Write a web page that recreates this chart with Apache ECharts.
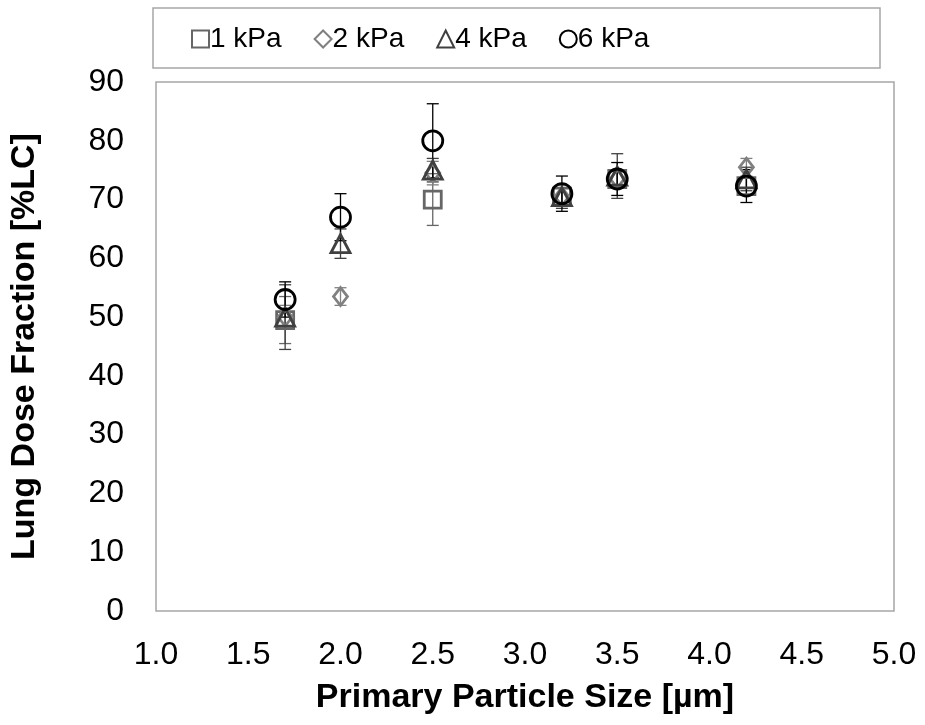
<!DOCTYPE html>
<html><head><meta charset="utf-8">
<script src="https://cdn.jsdelivr.net/npm/echarts@6/dist/echarts.min.js"></script>
<style>html,body{margin:0;padding:0;background:#fff}#c{width:925px;height:725px}</style>
</head><body><div id="c"></div>
<script>
const sizes = [1.7, 2.0, 2.5, 3.2, 3.5, 4.2];
const names = ['1 kPa', '2 kPa', '4 kPa', '6 kPa'];
const kPa1 = [49.5, null, 70, 70.5, 73.5, 72.3];
const kPa2 = [50, 53.5, 74.5, 70.5, 73.5, 75.5];
const kPa4 = [50, 62.5, 75, 70.5, 74, 73.5];
const kPa6 = [53, 67, 80, 71, 73.5, 72.3];
const err1 = [4, null, 4.4, 1.5, 1.5, 1.5];
const err2 = [2, 1.5, 2, 1.5, 1.5, 1.5];
const err4 = [5.5, 2.5, 2, 2, 3.8, 2];
const err6 = [3, 4, 6.3, 3, 2.8, 2.8];
const xTicks = ['1.0','1.5','2.0','2.5','3.0','3.5','4.0','4.5','5.0'];

const vals = [kPa1, kPa2, kPa4, kPa6];
const errs = [err1, err2, err4, err6];
const symbols = ['rect', 'diamond', 'triangle', 'circle'];
const symSizes = [[17,17], [14,18], [19,18], [20,20]];
const colors = ['#666666', '#808080', '#404040', '#000000'];
const errColors = ['#666666', '#808080', '#404040', '#000000'];

const series = [];
vals.forEach((v, i) => {
  const pts = [];
  const ebs = [];
  sizes.forEach((x, j) => {
    if (v[j] != null) {
      pts.push([x, v[j]]);
      ebs.push([x, v[j] - errs[i][j], v[j] + errs[i][j]]);
    }
  });
  series.push({
    type: 'custom', name: names[i] + '_err', silent: true, z: 1,
    data: ebs,
    renderItem: function (params, api) {
      const x = api.value(0);
      const lo = api.coord([x, api.value(1)]);
      const hi = api.coord([x, api.value(2)]);
      const hw = 6;
      const st = { stroke: errColors[i], lineWidth: 1.3 };
      return { type: 'group', children: [
        { type: 'line', shape: { x1: lo[0], y1: lo[1], x2: hi[0], y2: hi[1] }, style: st },
        { type: 'line', shape: { x1: lo[0]-hw, y1: lo[1], x2: lo[0]+hw, y2: lo[1] }, style: st },
        { type: 'line', shape: { x1: hi[0]-hw, y1: hi[1], x2: hi[0]+hw, y2: hi[1] }, style: st }
      ]};
    }
  });
  series.push({
    type: 'scatter', name: names[i], z: 2 + i,
    data: pts, symbol: symbols[i], symbolSize: symSizes[i],
    itemStyle: { color: 'rgba(0,0,0,0)', borderColor: colors[i], borderWidth: 2.8, opacity: 1 }
  });
});

const chart = echarts.init(document.getElementById('c'), null, { renderer: 'canvas' });
chart.setOption({
  animation: false,
  textStyle: { fontFamily: 'Liberation Sans, Arial, sans-serif' },
  grid: { left: 155, right: 31, top: 82, bottom: 114, show: true, borderColor: '#a6a6a6', borderWidth: 1.5, backgroundColor: '#fff' },
  graphic: [{ type: 'rect', shape: { x: 153, y: 8, width: 727, height: 60 }, style: { fill: '#fff', stroke: '#a6a6a6', lineWidth: 1.5 }, z: -1 }],
  legend: {
    data: names.map((n, i) => ({ name: n, icon: symbols[i] })),
    top: 20, left: 186, itemGap: 32, itemWidth: 17, itemHeight: 17,
    textStyle: { fontSize: 28, color: '#000', fontFamily: 'Liberation Sans, Arial, sans-serif', padding: [0,0,0,-4] },
    selectedMode: false
  },
  xAxis: {
    type: 'value', min: 1, max: 5, interval: 0.5,
    axisLine: { show: false }, axisTick: { show: false }, splitLine: { show: false },
    axisLabel: { fontSize: 32, color: '#000', margin: 28, formatter: v => xTicks[Math.round((v - 1) / 0.5)] },
    name: 'Primary Particle Size [µm]', nameLocation: 'middle', nameGap: 70,
    nameTextStyle: { fontSize: 34, fontWeight: 'bold', color: '#000' }
  },
  yAxis: {
    type: 'value', min: 0, max: 90, interval: 10,
    axisLine: { show: false }, axisTick: { show: false }, splitLine: { show: false },
    axisLabel: { fontSize: 32, color: '#000', margin: 32 },
    name: 'Lung Dose Fraction [%LC]', nameLocation: 'middle', nameGap: 114, nameRotate: 90,
    nameTextStyle: { fontSize: 34, fontWeight: 'bold', color: '#000' }
  },
  series: series
});
</script></body></html>
